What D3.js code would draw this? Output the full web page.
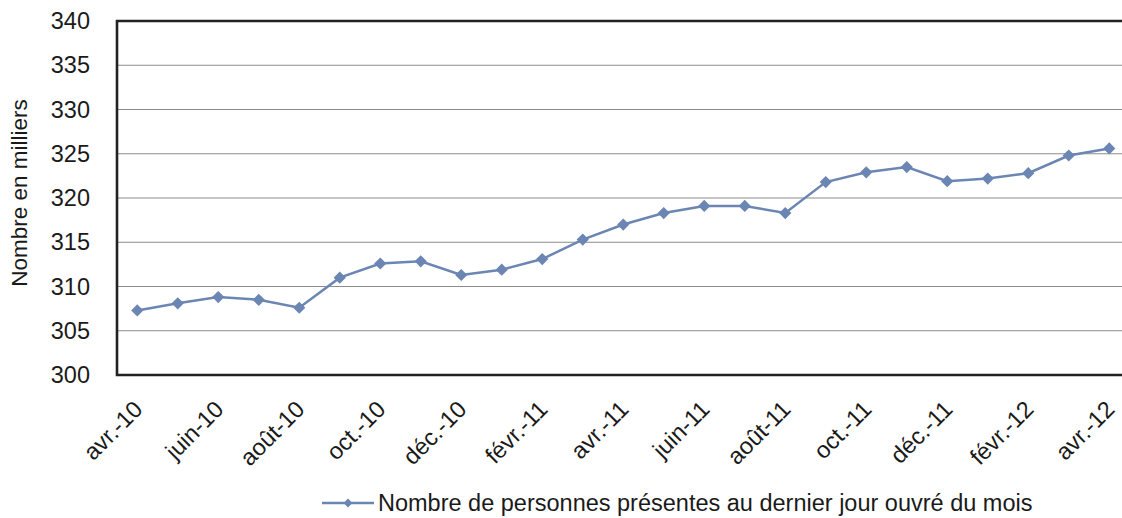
<!DOCTYPE html>
<html>
<head>
<meta charset="utf-8">
<script src="https://cdn.jsdelivr.net/npm/d3@7"></script>
<style>
body { margin: 0; background: #fff; }
svg { display: block; font-family: "Liberation Sans", Arial, sans-serif; }
</style>
</head>
<body>
<script>
// months, avr.-10 to avr.-12
const months = ["avr.-10", "mai-10", "juin-10", "juil.-10", "août-10", "sept.-10", "oct.-10", "nov.-10", "déc.-10",
  "janv.-11", "févr.-11", "mars-11", "avr.-11", "mai-11", "juin-11", "juil.-11", "août-11", "sept.-11", "oct.-11",
  "nov.-11", "déc.-11", "janv.-12", "févr.-12", "mars-12", "avr.-12"];
// nombre de personnes (milliers)
const values = [307.3, 308.1, 308.8, 308.5, 307.6, 311.0, 312.6, 312.85, 311.3,
  311.9, 313.1, 315.3, 317.0, 318.3, 319.1, 319.1, 318.3, 321.8, 322.9,
  323.5, 321.9, 322.2, 322.8, 324.8, 325.6];
const yTicks = [300, 305, 310, 315, 320, 325, 330, 335, 340];
const seriesName = "Nombre de personnes présentes au dernier jour ouvré du mois";
const yTitle = "Nombre en milliers";

const width = 1122, height = 518;
const plotLeft = 117, plotTop = 21, plotBottom = 375;
const step = 40.5;
const color = "#6b86b3";
const fs = 23.5;

const svg = d3.select("body").append("svg")
  .attr("width", width)
  .attr("height", height)
  .style("overflow", "hidden");

// x: one slot per month, the right part of the chart is cut off
const x = d3.scalePoint()
  .domain(months)
  .range([plotLeft, plotLeft + months.length * step])
  .padding(0.5);

const y = d3.scaleLinear()
  .domain([300, 340])
  .range([plotBottom, plotTop]);

// grid
svg.append("g")
  .selectAll("line")
  .data(yTicks.filter(d => d > 300 && d < 340))
  .join("line")
  .attr("x1", plotLeft).attr("x2", width)
  .attr("y1", d => y(d)).attr("y2", d => y(d))
  .attr("stroke", "#8c8c8c")
  .attr("stroke-width", 1.2);

// frame (left, top, bottom)
svg.append("path")
  .attr("d", `M${width},${y(340)}H${plotLeft}V${y(300)}H${width}`)
  .attr("fill", "none")
  .attr("stroke", "#222")
  .attr("stroke-width", 2.6);

// y labels
svg.append("g")
  .selectAll("text")
  .data(yTicks)
  .join("text")
  .attr("x", 90)
  .attr("y", d => y(d))
  .attr("dy", "0.35em")
  .attr("text-anchor", "end")
  .attr("font-size", fs)
  .attr("fill", "#1a1a1a")
  .text(d => d);

svg.append("text")
  .attr("transform", `translate(27,${193}) rotate(-90)`)
  .attr("text-anchor", "middle")
  .attr("font-size", 22.5)
  .attr("fill", "#1a1a1a")
  .text(yTitle);

// x labels, every second month
svg.append("g")
  .selectAll("text")
  .data(months.filter((d, i) => i % 2 === 0))
  .join("text")
  .attr("transform", d => `translate(${x(d) + 1},${405}) rotate(-45)`)
  .attr("text-anchor", "end")
  .attr("dy", "0.35em")
  .attr("font-size", fs)
  .attr("fill", "#1a1a1a")
  .text(d => d);

// series
const line = d3.line()
  .x((d, i) => x(months[i]))
  .y(d => y(d));

svg.append("path")
  .datum(values)
  .attr("d", line)
  .attr("fill", "none")
  .attr("stroke", color)
  .attr("stroke-width", 2.5);

const diamond = d3.symbol().type(d3.symbolDiamond2).size(95);

svg.append("g")
  .selectAll("path")
  .data(values)
  .join("path")
  .attr("transform", (d, i) => `translate(${x(months[i])},${y(d)})`)
  .attr("d", diamond)
  .attr("fill", color);

// legend
const lg = svg.append("g").attr("transform", "translate(322,503)");
lg.append("line")
  .attr("x1", 0).attr("x2", 52)
  .attr("stroke", color)
  .attr("stroke-width", 2.5);
lg.append("path")
  .attr("transform", "translate(26,0)")
  .attr("d", d3.symbol().type(d3.symbolDiamond2).size(50))
  .attr("fill", color);
lg.append("text")
  .attr("x", 56)
  .attr("dy", "0.35em")
  .attr("font-size", fs)
  .attr("fill", "#1a1a1a")
  .text(seriesName);
</script>
</body>
</html>
